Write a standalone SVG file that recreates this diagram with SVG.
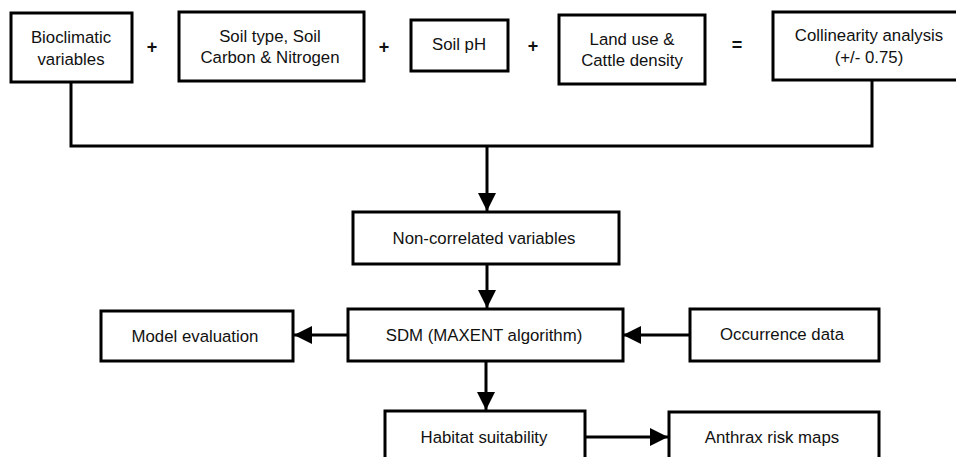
<svg xmlns="http://www.w3.org/2000/svg" width="956" height="457" viewBox="0 0 956 457">
<style>
.box{fill:#fff;stroke:#000;stroke-width:3}
.t{font-family:"Liberation Sans",Arial,sans-serif;font-size:16.8px;fill:#111;text-anchor:middle}
.op{font-family:"Liberation Sans",Arial,sans-serif;font-size:18px;font-weight:bold;fill:#111;text-anchor:middle}
.c{fill:none;stroke:#000;stroke-width:3}
</style>
<defs>
<marker id="ah" markerUnits="userSpaceOnUse" markerWidth="18" markerHeight="18" viewBox="0 0 16 16" refX="16" refY="8" orient="auto">
<path d="M0,0 L16,8 L0,16 Z" fill="#000"/>
</marker>
</defs>
<rect width="956" height="457" fill="#fff"/>
<g id="connectors">
<path class="c" d="M71,82 V146 H872 V80"/>
<line class="c" x1="487" y1="146" x2="487" y2="211" marker-end="url(#ah)"/>
<line class="c" x1="487" y1="264" x2="487" y2="308" marker-end="url(#ah)"/>
<line class="c" x1="348" y1="335" x2="294" y2="335" marker-end="url(#ah)"/>
<line class="c" x1="690" y1="335" x2="623" y2="335" marker-end="url(#ah)"/>
<line class="c" x1="486" y1="361" x2="486" y2="410" marker-end="url(#ah)"/>
<line class="c" x1="585" y1="437" x2="668" y2="437" marker-end="url(#ah)"/>
</g>
<g id="operators">
<text class="op" x="152" y="53">+</text>
<text class="op" x="384" y="53">+</text>
<text class="op" x="533" y="52">+</text>
<text class="op" x="737" y="51">=</text>
</g>
<g id="bioclimatic">
<rect class="box" x="11" y="13" width="121" height="69"/>
<text class="t" x="71" y="43">Bioclimatic</text>
<text class="t" x="71" y="65">variables</text>
</g>
<g id="soil-type">
<rect class="box" x="179" y="12" width="185" height="69"/>
<text class="t" x="270" y="42">Soil type, Soil</text>
<text class="t" x="270" y="63">Carbon &amp; Nitrogen</text>
</g>
<g id="soil-ph">
<rect class="box" x="411" y="20" width="97" height="51"/>
<text class="t" x="459" y="50">Soil pH</text>
</g>
<g id="land-use">
<rect class="box" x="559" y="15" width="146" height="69"/>
<text class="t" x="632" y="45">Land use &amp;</text>
<text class="t" x="632" y="66">Cattle density</text>
</g>
<g id="collinearity">
<rect class="box" x="773" y="12" width="193" height="68"/>
<text class="t" x="869" y="41">Collinearity analysis</text>
<text class="t" x="869" y="63">(+/- 0.75)</text>
</g>
<g id="non-correlated">
<rect class="box" x="353" y="212" width="266" height="52"/>
<text class="t" x="484" y="244">Non-correlated variables</text>
</g>
<g id="model-evaluation">
<rect class="box" x="101" y="311" width="192" height="50"/>
<text class="t" x="195" y="342">Model evaluation</text>
</g>
<g id="sdm">
<rect class="box" x="348" y="309" width="275" height="52"/>
<text class="t" x="484" y="341">SDM (MAXENT algorithm)</text>
</g>
<g id="occurrence">
<rect class="box" x="690" y="309" width="189" height="52"/>
<text class="t" x="782" y="340">Occurrence data</text>
</g>
<g id="habitat">
<rect class="box" x="385" y="411" width="200" height="60"/>
<text class="t" x="484" y="443">Habitat suitability</text>
</g>
<g id="anthrax">
<rect class="box" x="669" y="412" width="210" height="60"/>
<text class="t" x="772" y="443">Anthrax risk maps</text>
</g>
</svg>
